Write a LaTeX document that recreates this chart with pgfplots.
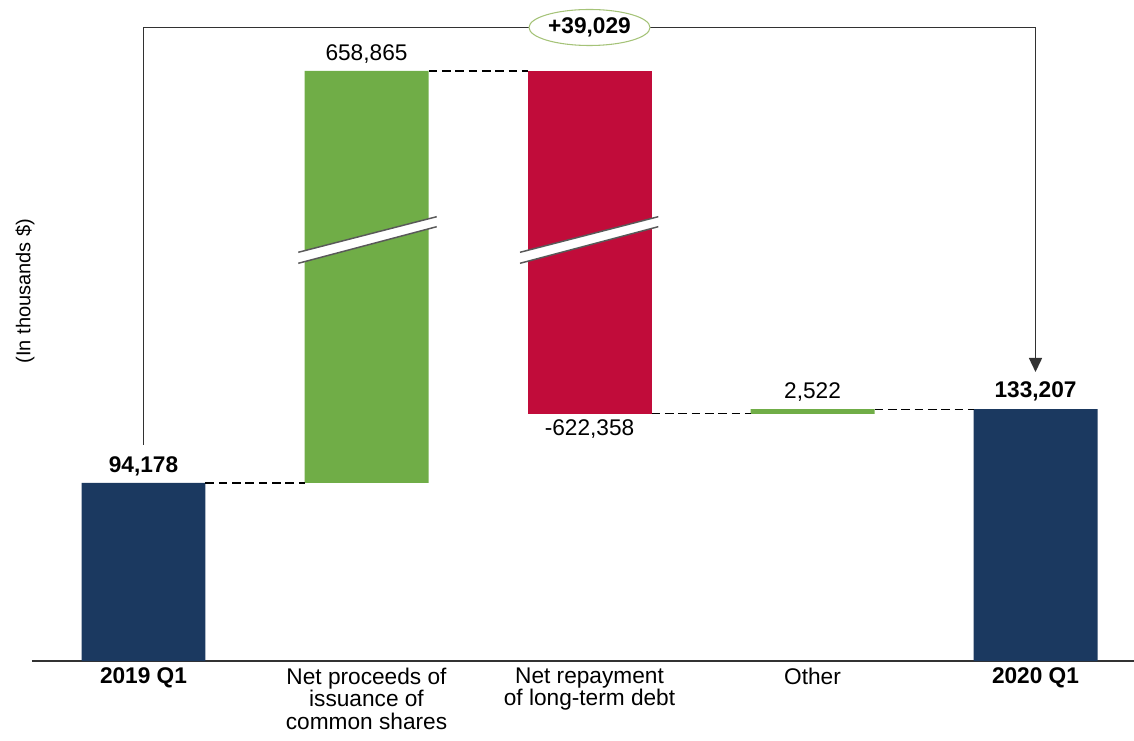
\documentclass[border=0pt]{standalone}
\usepackage{pgfplots}
\pgfplotsset{compat=1.18}
\usepackage{pgfplotstable}
\usepackage{fontspec}
\setmainfont{Liberation Sans}
\usetikzlibrary{arrows.meta,shapes.geometric}
\definecolor{navy}{RGB}{27,57,96}
\definecolor{bargreen}{RGB}{112,173,71}
\definecolor{barred}{RGB}{193,12,58}
\definecolor{ellgreen}{RGB}{165,195,120}
\definecolor{linegray}{RGB}{50,50,50}
% x: category position; base: invisible offset; the other columns: drawn heights
% (increase and decrease bars are drawn on a broken scale: true values 658,865 and -622,358)
\pgfplotstableread{
x base total up down
0 0      94178  0      0
1 94178  0      217932 0
2 130685 0      0      181425
3 130685 0      2522   0
4 0      133207 0      0
}\wf
\pgfplotsset{wfbox/.style={
  scale only axis,
  width=826.5pt, height=495.75pt,
  xmin=-0.5, xmax=4.4417,
  ymin=0, ymax=349669,
  clip=false,
}}
\begin{document}
\begin{tikzpicture}
\begin{axis}[
  wfbox,
  axis x line=bottom,
  axis y line=none,
  x axis line style={-, line width=1.1pt, color=linegray},
  xtick={0,1,2,3,4},
  xticklabels={\textbf{2019 Q1},Net proceeds of\\issuance of\\common shares,Net repayment\\of long-term debt,Other,\textbf{2020 Q1}},
  xticklabel style={align=center, font=\fontsize{17}{17}\selectfont, yshift=-1.5pt},
  major tick length=0pt,
  ybar stacked,
  bar width=0.556,
]
\addplot[draw=none, fill=none] table[x=x, y=base] {\wf};
\addplot[draw=none, fill=navy] table[x=x, y=total] {\wf};
\addplot[draw=none, fill=bargreen] table[x=x, y=up] {\wf};
\addplot[draw=none, fill=barred] table[x=x, y=down] {\wf};
\end{axis}
\begin{axis}[wfbox, hide axis]
% break marks
\addplot[fill=white, draw=none] coordinates {(0.6942,216202) (1.3148,235035) (1.3148,229745) (0.6942,210383)} -- cycle;
\addplot[line width=1.1pt, color=gray!70!black] coordinates {(0.6942,216202) (1.3148,235035)};
\addplot[line width=1.1pt, color=gray!70!black] coordinates {(0.6942,210383) (1.3148,229745)};
\addplot[fill=white, draw=none] coordinates {(1.6883,216202) (2.3085,235035) (2.3085,229745) (1.6883,210383)} -- cycle;
\addplot[line width=1.1pt, color=gray!70!black] coordinates {(1.6883,216202) (2.3085,235035)};
\addplot[line width=1.1pt, color=gray!70!black] coordinates {(1.6883,210383) (2.3085,229745)};

% connectors
\addplot[dash pattern=on 6.5pt off 3.5pt, line width=0.8pt, black] coordinates {(0.278,94178) (0.722,94178)};
\addplot[dash pattern=on 6.5pt off 3.5pt, line width=0.8pt, black] coordinates {(1.278,312110) (1.722,312110)};
\addplot[dash pattern=on 6.5pt off 3.5pt, line width=0.8pt, black] coordinates {(2.278,130685) (2.722,130685)};
\addplot[dash pattern=on 6.5pt off 3.5pt, line width=0.8pt, black] coordinates {(3.278,133207) (3.722,133207)};

% total change arrow
\addplot[line width=1.1pt, color=linegray, -{Triangle[length=10.5pt,width=9.75pt]}] coordinates {(0,114264) (0,335122) (4,335122) (4,152881)};
\node[ellipse, draw=ellgreen, line width=0.8pt, fill=white, minimum width=90.75pt, minimum height=27pt, inner sep=0pt, font=\fontsize{17}{17}\selectfont\bfseries] at (axis cs:2,335122) {+39,029};

% value labels
\node[anchor=base, font=\fontsize{17}{17}\selectfont, yshift=7.5pt] at (axis cs:0,94178) {\textbf{94,178}};
\node[anchor=base, font=\fontsize{17}{17}\selectfont, yshift=7.5pt] at (axis cs:1,312110) {658,865};
\node[anchor=base, font=\fontsize{17}{17}\selectfont, yshift=-16.5pt] at (axis cs:2,130685) {-622,358};
\node[anchor=base, font=\fontsize{17}{17}\selectfont, yshift=8.2pt] at (axis cs:3,133207) {2,522};
\node[anchor=base, font=\fontsize{17}{17}\selectfont, yshift=9pt] at (axis cs:4,133207) {\textbf{133,207}};
\end{axis}
\node[rotate=90, font=\fontsize{15}{15}\selectfont] at (-5.25pt,277.5pt) {(In thousands \$)};
\pgfresetboundingbox
\useasboundingbox (-24pt,-59.25pt) rectangle (826.5pt,495.75pt);
\end{tikzpicture}
\end{document}
